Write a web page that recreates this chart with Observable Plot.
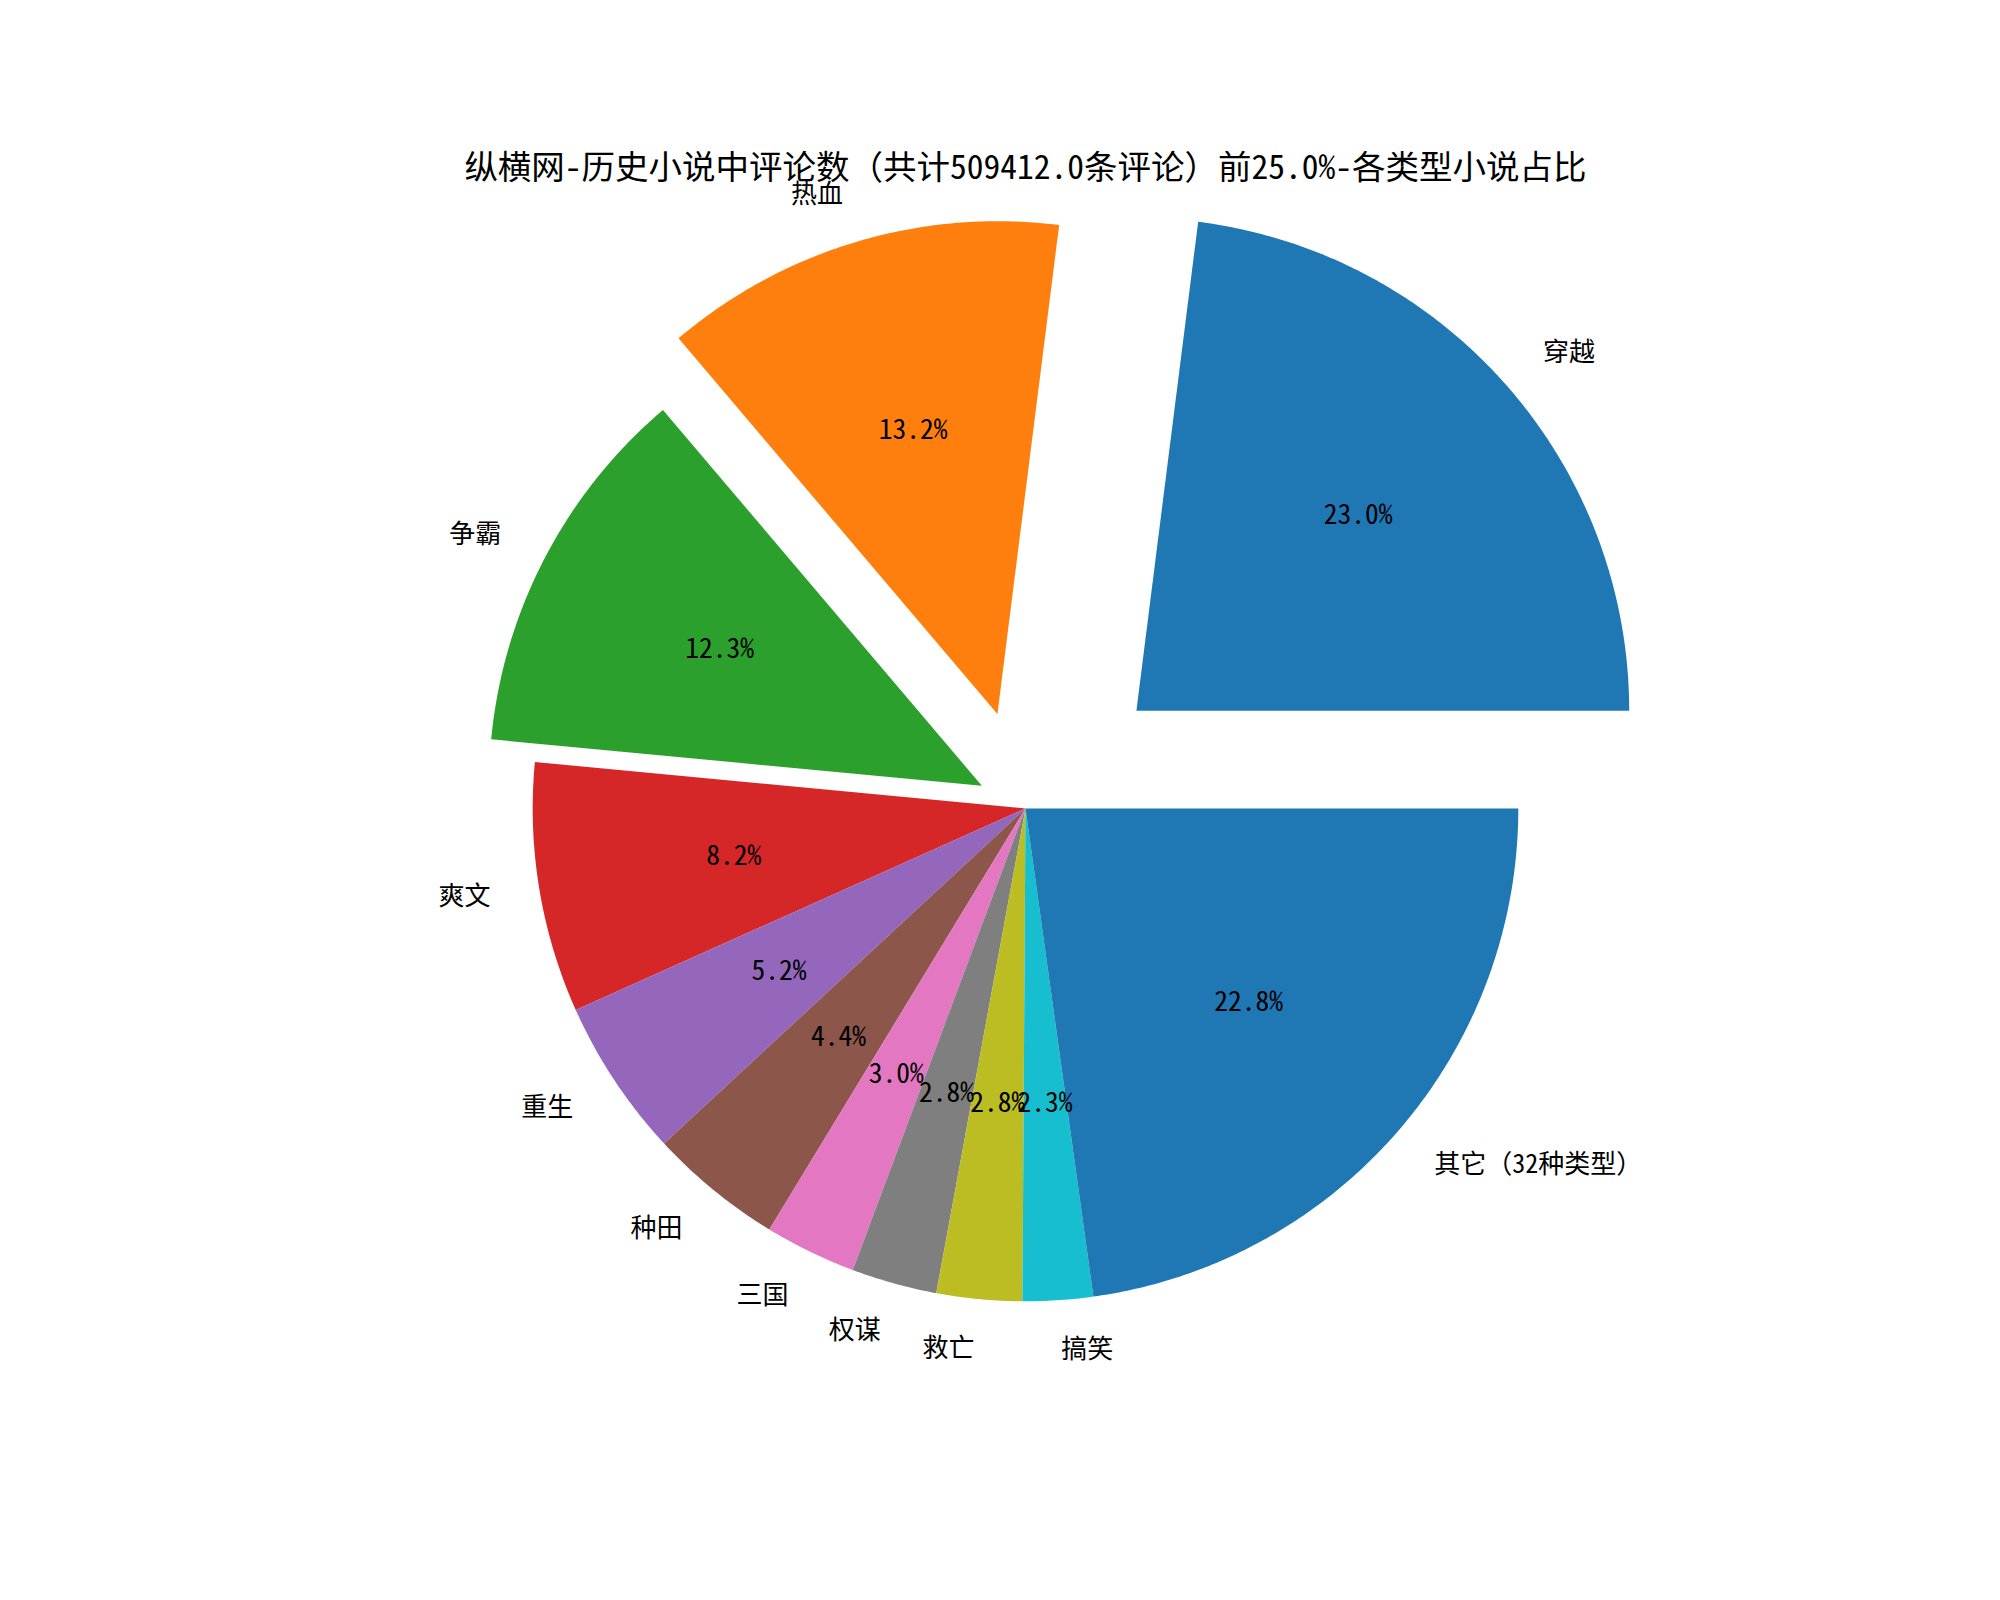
<!DOCTYPE html>
<html>
<head>
<meta charset="utf-8">
<script src="https://cdn.jsdelivr.net/npm/d3@7"></script>
<script src="https://cdn.jsdelivr.net/npm/@observablehq/plot@0.6"></script>
<style>
  html, body { margin: 0; padding: 0; background: #ffffff; }
  #chart { width: 2000px; height: 1600px; }
</style>
</head>
<body>
<div id="chart"></div>
<script>
// ---- data ----
const chartTitle = "纵横网-历史小说中评论数（共计509412.0条评论）前25.0%-各类型小说占比";
const categories = ["穿越", "热血", "争霸", "爽文", "重生", "种田", "三国", "权谋", "救亡", "搞笑", "其它（32种类型）"];
const shares = [23.0, 13.2, 12.3, 8.2, 5.2, 4.4, 3.0, 2.8, 2.8, 2.3, 22.8];
const explode = [0.3, 0.2, 0.1, 0, 0, 0, 0, 0, 0, 0, 0];
const palette = ["#1f77b4", "#ff7f0e", "#2ca02c", "#d62728", "#9467bd", "#8c564b", "#e377c2", "#7f7f7f", "#bcbd22", "#17becf", "#1f77b4"];

// ---- build wedge geometry (matplotlib-style pie: start 0°, counter-clockwise) ----
const total = d3.sum(shares);
const wedgePts = [];
const labels = [];
const pcts = [];
let cum = 0;
categories.forEach((cat, i) => {
  const t1 = (cum / total) * 2 * Math.PI;
  cum += shares[i];
  const t2 = (cum / total) * 2 * Math.PI;
  const tm = (t1 + t2) / 2;
  const cx = explode[i] * Math.cos(tm);
  const cy = explode[i] * Math.sin(tm);
  wedgePts.push({k: i, cat, x: cx, y: cy});
  const n = Math.max(2, Math.ceil((t2 - t1) / (Math.PI / 360)));
  for (let j = 0; j <= n; j++) {
    const t = t1 + (t2 - t1) * j / n;
    wedgePts.push({k: i, cat, x: cx + Math.cos(t), y: cy + Math.sin(t)});
  }
  wedgePts.push({k: i, cat, x: cx, y: cy});
  const lx = cx + 1.1 * Math.cos(tm);
  const ly = cy + 1.1 * Math.sin(tm);
  labels.push({text: cat, x: lx, y: ly, side: lx > 0 ? "start" : "end"});
  pcts.push({text: shares[i].toFixed(1) + "%", x: cx + 0.6 * Math.cos(tm), y: cy + 0.6 * Math.sin(tm)});
});

const font = "'Noto Sans Mono CJK SC', 'Noto Sans CJK SC', 'Noto Sans', sans-serif";

const plot = Plot.plot({
  width: 2000,
  height: 1600,
  marginLeft: 409,
  marginRight: 359,
  marginTop: 192,
  marginBottom: 176,
  x: {domain: [-1.25, 1.25], axis: null},
  y: {domain: [-1.25, 1.25], axis: null},
  color: {domain: categories, range: palette},
  style: {fontFamily: font, background: "#ffffff", color: "#000000"},
  marks: [
    Plot.line(wedgePts, {x: "x", y: "y", z: "k", fill: "cat", stroke: "none", curve: "linear"}),
    Plot.text(labels.filter(d => d.side === "start"), {x: "x", y: "y", text: "text", textAnchor: "start", lineAnchor: "middle", fontSize: 26, fill: "#000"}),
    Plot.text(labels.filter(d => d.side === "end"), {x: "x", y: "y", text: "text", textAnchor: "end", lineAnchor: "middle", fontSize: 26, fill: "#000"}),
    Plot.text(pcts, {x: "x", y: "y", text: "text", textAnchor: "middle", lineAnchor: "middle", fontSize: 27.5, fill: "#000"}),
    Plot.text([chartTitle], {text: d => d, frameAnchor: "top", lineAnchor: "bottom", dy: -14, fontSize: 33.5, fill: "#000"})
  ]
});
document.getElementById("chart").appendChild(plot);
</script>
</body>
</html>
